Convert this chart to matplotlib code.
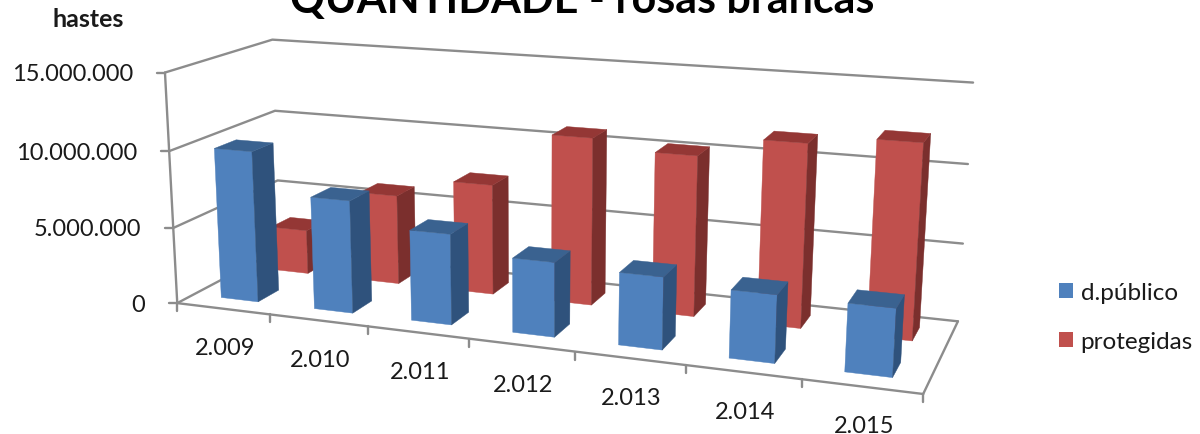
import matplotlib
matplotlib.use('Agg')
import matplotlib.pyplot as plt
from matplotlib.patches import Patch
import numpy as np

years = ['2.009', '2.010', '2.011', '2.012', '2.013', '2.014', '2.015']
y_ticks = [0, 5000000, 10000000, 15000000]
y_tick_labels = ['0', '5.000.000', '10.000.000', '15.000.000']
d_publico = [9900000, 7300000, 5800000, 4700000, 4500000, 4150000, 4100000]
protegidas = [3000000, 6000000, 7300000, 10900000, 10300000, 11600000, 12150000]

BLUE = ('#4F81BD', '#2F527C', '#3A6290')
RED = ('#C0504D', '#7B2F2D', '#943735')
GRID = '#8C8C8C'
TEXT = '#1A1A1A'

plt.rcParams['font.family'] = ['Lato', 'DejaVu Sans']

# reference points of the 3d box: (category, depth, millions) -> pixel
box_world = np.array([
    [0, 0, 0], [0, 0, 5], [0, 0, 10], [0, 0, 15],
    [0, 1, 0], [0, 1, 5], [0, 1, 10], [0, 1, 15],
    [7, 1, 0], [7, 1, 5], [7, 1, 10], [7, 1, 15],
    [1, 0, 0], [2, 0, 0], [3, 0, 0], [4, 0, 0], [5, 0, 0], [6, 0, 0], [7, 0, 0],
], dtype=float)
box_pixel = np.array([
    [178, 304], [173, 229], [169, 152], [165, 73],
    [280, 250], [277, 181], [276, 112], [272, 41],
    [958, 322], [963, 244], [968, 165], [973, 84],
    [270, 315], [368, 328], [469, 340], [575, 352], [685, 367], [802, 380], [923, 395],
], dtype=float)


def fit_projection(world, pixel):
    rows, rhs = [], []
    for (u, d, v), (px, py) in zip(world, pixel):
        rows.append([u, d, v, 1, 0, 0, 0, 0, -px * u, -px * d, -px * v])
        rhs.append(px)
        rows.append([0, 0, 0, 0, u, d, v, 1, -py * u, -py * d, -py * v])
        rhs.append(py)
    sol = np.linalg.lstsq(np.array(rows), np.array(rhs), rcond=None)[0]
    return np.append(sol, 1.0).reshape(3, 4)


P = fit_projection(box_world, box_pixel)


def project(u, d, value):
    # value in plain units, the box is calibrated in millions
    h = P @ np.array([u, d, value / 1e6, 1.0])
    return h[0] / h[2], h[1] / h[2]


def draw_bar(ax, i, row, value, colors):
    u0, u1 = i + 0.3, i + 0.7
    d0, d1 = row + 0.15, row + 0.35
    front = [project(u0, d0, 0), project(u1, d0, 0), project(u1, d0, value), project(u0, d0, value)]
    side = [project(u1, d0, 0), project(u1, d1, 0), project(u1, d1, value), project(u1, d0, value)]
    top = [project(u0, d0, value), project(u1, d0, value), project(u1, d1, value), project(u0, d1, value)]
    for poly, c in zip((front, side, top), colors):
        ax.add_patch(plt.Polygon(poly, closed=True, facecolor=c, edgecolor=c, linewidth=0.3, zorder=3))


fig = plt.figure(figsize=(12, 4.35), dpi=100)
ax = fig.add_axes([0, 0, 1, 1])
ax.set_xlim(0, 1200)
ax.set_ylim(435, 0)
ax.axis('off')

n = len(years)
line_kw = dict(color=GRID, linewidth=1.7, solid_capstyle='round', zorder=1)

# gridlines on side wall and back wall
for value, label in zip(y_ticks, y_tick_labels):
    pts = [project(0, 0, value), project(0, 1, value), project(n, 1, value)]
    ax.plot([p[0] for p in pts], [p[1] for p in pts], **line_kw)
    x0, y0 = pts[0]
    ax.plot([x0 - 8, x0], [y0, y0], **line_kw)
    ax.text(x0 - 32, y0 + 1, label, ha='right', va='center', fontsize=17, color=TEXT)

# axes lines
for a, b in [((0, 0, 0), (0, 0, y_ticks[-1])), ((0, 0, 0), (n, 0, 0)), ((n, 0, 0), (n, 1, 0))]:
    pa, pb = project(*a), project(*b)
    ax.plot([pa[0], pb[0]], [pa[1], pb[1]], **line_kw)

for i in range(n + 1):
    x0, y0 = project(i, 0, 0)
    ax.plot([x0, x0], [y0, y0 + 8], **line_kw)

for i, label in enumerate(years):
    x0, y0 = project(i + 0.5, 0, 0)
    ax.text(x0 + 2, y0 + 39, label, ha='center', va='center', fontsize=17, color=TEXT)

# back row first, front row over it
for i, value in enumerate(protegidas):
    draw_bar(ax, i, 0.5, value, RED)
for i, value in enumerate(d_publico):
    draw_bar(ax, i, 0.0, value, BLUE)

ax.text(582, 13, 'QUANTIDADE - rosas brancas', ha='center', va='baseline', fontsize=31,
        fontweight='bold', color='black')
ax.text(88, 27, 'hastes', ha='center', va='baseline', fontsize=18, fontweight='bold', color=TEXT)

handles = [Patch(facecolor=BLUE[0], label='d.público'), Patch(facecolor=RED[0], label='protegidas')]
ax.legend(handles=handles, loc='upper left', bbox_to_anchor=(1052 / 1200, 1 - 276 / 435), frameon=False,
          fontsize=17.5, handlelength=0.58, handleheight=0.58, handletextpad=0.3, labelspacing=1.15,
          labelcolor=TEXT, borderaxespad=0, borderpad=0.3)

fig.savefig('out.png', dpi=100)
